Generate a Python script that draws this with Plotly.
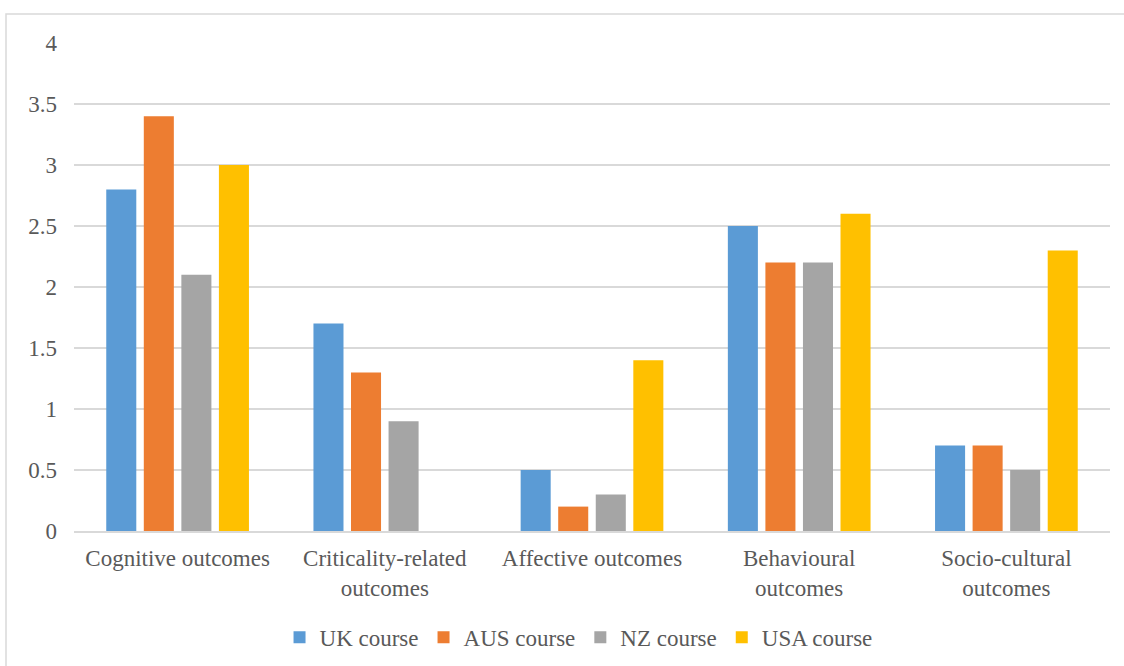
import plotly.graph_objects as go

categories = ["Cognitive outcomes", "Criticality-related<br>outcomes", "Affective outcomes",
              "Behavioural<br>outcomes", "Socio-cultural<br>outcomes"]
uk = [2.8, 1.7, 0.5, 2.5, 0.7]
aus = [3.4, 1.3, 0.2, 2.2, 0.7]
nz = [2.1, 0.9, 0.3, 2.2, 0.5]
usa = [3.0, 0, 1.4, 2.6, 2.3]
series_names = ["UK course", "AUS course", "NZ course", "USA course"]
colors = ["#5B9BD5", "#ED7D31", "#A5A5A5", "#FFC000"]
y_ticks = [0, 0.5, 1, 1.5, 2, 2.5, 3, 3.5, 4]

font_family = "Liberation Serif, Times New Roman, serif"
fig = go.Figure()
for name, vals, c in zip(series_names, [uk, aus, nz, usa], colors):
    fig.add_trace(go.Bar(x=categories, y=vals, name=name, marker=dict(color=c, line=dict(width=0))))

fig.update_layout(
    width=1124, height=666,
    margin=dict(l=74, r=14, t=43, b=135, autoexpand=False),
    paper_bgcolor="white", plot_bgcolor="white",
    barmode="group", bargap=0.275, bargroupgap=0.2,
    font=dict(family=font_family, size=23, color="#595959"),
    legend=dict(orientation="h", x=0.487, xanchor="center", y=-0.218, yanchor="middle",
                font=dict(size=23), itemwidth=30, traceorder="normal"),
    showlegend=True,
)
fig.update_yaxes(range=[0, 4], tickvals=y_ticks, ticktext=[f"{v:g}" for v in y_ticks],
                 showgrid=True, gridcolor="#D9D9D9", gridwidth=1.5, zeroline=False,
                 showline=False, ticks="", ticklabelstandoff=16, automargin=False)
fig.update_xaxes(showline=True, linecolor="#D9D9D9", linewidth=1.5, ticks="",
                 tickfont=dict(size=23), ticklabelstandoff=6, automargin=False)
fig.add_shape(type="rect", xref="paper", yref="paper", x0=-68/1036, x1=(1130-74)/1036,
              y0=-200/488, y1=1 + 29/488, line=dict(color="#D9D9D9", width=1.5))
fig.write_html("out.html")
